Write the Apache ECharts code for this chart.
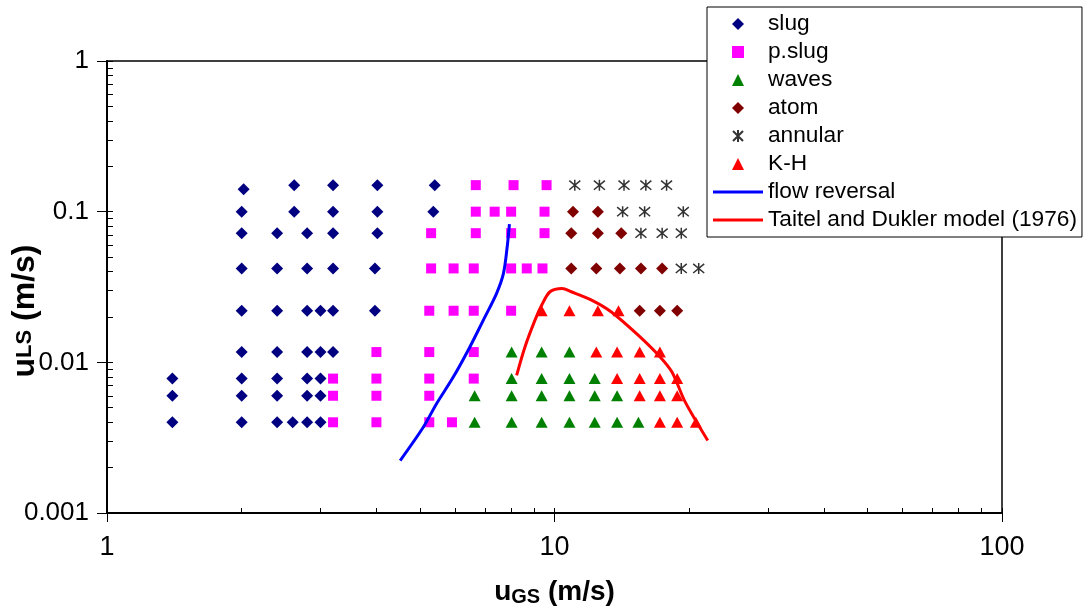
<!DOCTYPE html>
<html>
<head>
<meta charset="utf-8">
<script src="https://cdn.jsdelivr.net/npm/echarts@6/dist/echarts.min.js"></script>
<style>
html,body{margin:0;padding:0;background:#fff;}
#chart{width:1083px;height:612px;}
</style>
</head>
<body>
<div id="chart"></div>
<script>
// ---- data (u_GS [m/s], u_LS [m/s]) ----
const slugPoints = [
  [1.4,0.0078],[1.4,0.006],[1.4,0.004],
  [2.02,0.141],[2.0,0.1],[2.0,0.072],[2.0,0.042],[2.0,0.022],[2.0,0.0117],[2.0,0.0078],[2.0,0.006],[2.0,0.004],
  [2.4,0.072],[2.4,0.042],[2.4,0.022],[2.4,0.0117],[2.4,0.0078],[2.4,0.006],[2.4,0.004],
  [2.62,0.15],[2.62,0.1],[2.6,0.004],
  [2.8,0.072],[2.8,0.042],[2.8,0.022],[2.8,0.0117],[2.8,0.0078],[2.8,0.006],[2.8,0.004],
  [3.0,0.022],[3.0,0.0117],[3.0,0.0078],[3.0,0.006],[3.0,0.004],
  [3.2,0.15],[3.2,0.1],[3.2,0.072],[3.2,0.042],[3.2,0.022],[3.2,0.0117],
  [4.02,0.15],[4.02,0.1],[4.02,0.072],[3.97,0.042],[3.97,0.022],
  [5.4,0.15],[5.36,0.1]
];
const pslugPoints = [
  [3.2,0.0078],[3.2,0.006],[3.2,0.004],
  [4.0,0.0117],[4.0,0.0078],[4.0,0.006],[4.0,0.004],
  [5.3,0.072],[5.3,0.042],[5.25,0.022],[5.25,0.0117],[5.25,0.0078],[5.25,0.006],[5.25,0.004],
  [5.95,0.042],[5.95,0.022],[5.9,0.004],
  [6.67,0.15],[6.67,0.1],[6.67,0.072],[6.6,0.042],[6.6,0.022],[6.6,0.0117],[6.6,0.0078],
  [7.35,0.1],
  [8.1,0.15],[8.0,0.1],[8.0,0.072],[8.0,0.042],[8.0,0.022],
  [8.67,0.042],
  [9.6,0.15],[9.5,0.1],[9.5,0.072],[9.4,0.042]
];
const wavesPoints = [
  [6.63,0.006],[6.63,0.004],
  [8.02,0.0117],[8.02,0.0078],[8.02,0.006],[8.02,0.004],
  [9.36,0.0117],[9.36,0.0078],[9.36,0.006],[9.36,0.004],
  [10.8,0.0117],[10.8,0.0078],[10.8,0.006],[10.8,0.004],
  [12.3,0.0078],[12.3,0.006],[12.3,0.004],
  [13.8,0.006],[13.8,0.004],
  [15.4,0.004]
];
const atomPoints = [
  [11.0,0.1],[12.5,0.1],
  [10.9,0.072],[12.5,0.072],[14.1,0.072],
  [10.9,0.042],[12.4,0.042],[14.0,0.042],[15.6,0.042],[17.4,0.042],
  [15.5,0.022],[17.2,0.022],[18.8,0.022]
];
const annularPoints = [
  [11.1,0.15],[12.6,0.15],[14.3,0.15],[16.0,0.15],[17.8,0.15],
  [14.2,0.1],[15.9,0.1],[19.4,0.1],
  [15.6,0.072],[17.4,0.072],[19.2,0.072],
  [19.2,0.042],[21.0,0.042]
];
const khPoints = [
  [9.36,0.022],[10.8,0.022],[12.5,0.022],[13.9,0.022],
  [12.4,0.0117],[13.8,0.0117],[15.5,0.0117],[17.2,0.0117],
  [13.8,0.0078],[15.5,0.0078],[17.2,0.0078],[18.8,0.0078],
  [15.5,0.006],[17.2,0.006],[18.8,0.006],
  [17.2,0.004],[18.8,0.004],[20.7,0.004]
];
const flowReversal = [
  [4.52,0.00223],[5.09,0.00371],[5.45,0.00531],[5.94,0.00798],[6.47,0.01265],
  [6.93,0.019],[7.42,0.0286],[7.69,0.0389],[7.84,0.0585],[7.93,0.0828]
];
const taitelDukler = [
  [8.23,0.0082],[8.59,0.01265],[9.04,0.019],[9.36,0.0239],[9.77,0.0294],[10.4,0.0309],
  [10.9,0.0294],[12.1,0.0259],[13.4,0.0216],[15.4,0.0151],[17.1,0.0111],[18.3,0.00862],
  [19.6,0.00544],[22.0,0.00303]
];
const xMinorTicks = [1,2,3,4,5,6,7,8,9,10,20,30,40,50,60,70,80,90,100];
const yMinorTicks = [0.001,0.002,0.003,0.004,0.005,0.006,0.007,0.008,0.009,0.01,0.02,0.03,0.04,0.05,0.06,0.07,0.08,0.09,0.1,0.2,0.3,0.4,0.5,0.6,0.7,0.8,0.9,1];

const FONT = 'Liberation Sans, Arial, sans-serif';
const asteriskPath = 'path://M0,0L10,10M10,0L0,10M5,-1L5,11';
const diamondIcon = 'path://M5,0L10,5L5,10L0,5Z';
const rectIcon = 'path://M1,1H9V9H1Z';
const triIcon = 'path://M5,0L10,10L0,10Z';
const lineIcon = 'path://M0,0H50V3H0Z';

const chart = echarts.init(document.getElementById('chart'), null, {renderer:'canvas'});
const option = {
  backgroundColor: '#fff',
  animation: false,
  grid: {left:107, top:61, right:81, bottom:99, containLabel:false, outerBoundsMode:'none',
         show:true, borderColor:'#000', borderWidth:1.5, backgroundColor:'transparent'},
  legend: {
    orient:'vertical', left:707, top:7,
    backgroundColor:'#fff', borderColor:'#000', borderWidth:1,
    padding:[5,5,5,6],
    itemWidth:50, itemHeight:12, itemGap:4, symbolKeepAspect:true,
    textStyle:{fontFamily:FONT, fontSize:22.7, color:'#000', lineHeight:24},
    data:[
      {name:'slug', icon:diamondIcon},
      {name:'p.slug', icon:rectIcon},
      {name:'waves', icon:triIcon},
      {name:'atom', icon:diamondIcon},
      {name:'annular'},
      {name:'K-H', icon:triIcon},
      {name:'flow reversal', icon:lineIcon},
      {name:'Taitel and Dukler model (1976)', icon:lineIcon}
    ]
  },
  xAxis: [
    {type:'log', logBase:10, min:1, max:100, gridIndex:0, position:'bottom',
     name:'{u|u}{s|GS}{n| (m/s)}', nameLocation:'middle', nameGap:64, nameMoveOverlap:false,
     nameTextStyle:{rich:{
       u:{fontFamily:FONT, fontWeight:'bold', fontSize:28, color:'#000'},
       s:{fontFamily:FONT, fontWeight:'bold', fontSize:20, color:'#000', verticalAlign:'bottom', padding:[10,0,0,0]},
       n:{fontFamily:FONT, fontWeight:'bold', fontSize:28, color:'#000'}}},
     axisLine:{lineStyle:{color:'#000', width:2}},
     axisTick:{show:true, inside:false, length:9, lineStyle:{color:'#000', width:1}},
     axisLabel:{fontFamily:FONT, fontSize:27, color:'#000', margin:21},
     splitLine:{show:false}},
    {type:'log', logBase:10, min:1, max:100, gridIndex:0, position:'bottom',
     axisLine:{show:false},
     axisTick:{show:true, inside:true, length:5, customValues:xMinorTicks, lineStyle:{color:'#000', width:1}},
     axisLabel:{show:false}, splitLine:{show:false}}
  ],
  yAxis: [
    {type:'log', logBase:10, min:0.001, max:1, gridIndex:0, position:'left',
     name:'{u|u}{s|LS}{n| (m/s)}', nameLocation:'middle', nameGap:66, nameMoveOverlap:false,
     nameTextStyle:{padding:[0,48,0,0], rich:{
       u:{fontFamily:FONT, fontWeight:'bold', fontSize:32, color:'#000'},
       s:{fontFamily:FONT, fontWeight:'bold', fontSize:22, color:'#000'},
       n:{fontFamily:FONT, fontWeight:'bold', fontSize:32, color:'#000'}}},
     axisLine:{lineStyle:{color:'#000', width:2}},
     axisTick:{show:true, inside:false, length:10, lineStyle:{color:'#000', width:1}},
     axisLabel:{fontFamily:FONT, fontSize:26, color:'#000', margin:18,
       formatter:function(v){ return String(+v.toPrecision(3)); }},
     splitLine:{show:false}},
    {type:'log', logBase:10, min:0.001, max:1, gridIndex:0, position:'left',
     axisLine:{show:false},
     axisTick:{show:true, inside:true, length:6, customValues:yMinorTicks, lineStyle:{color:'#000', width:1}},
     axisLabel:{show:false}, splitLine:{show:false}}
  ],
  series: [
    {name:'slug', type:'scatter', data:slugPoints, symbol:'diamond', symbolSize:12, itemStyle:{color:'#000080', opacity:1}},
    {name:'p.slug', type:'scatter', data:pslugPoints, symbol:'rect', symbolSize:10, itemStyle:{color:'#FF00FF', opacity:1}},
    {name:'waves', type:'scatter', data:wavesPoints, symbol:'triangle', symbolSize:[12,11], itemStyle:{color:'#008000', opacity:1}},
    {name:'atom', type:'scatter', data:atomPoints, symbol:'diamond', symbolSize:12, itemStyle:{color:'#800000', opacity:1}},
    {name:'annular', type:'scatter', data:annularPoints, symbol:asteriskPath, symbolSize:11,
     itemStyle:{color:'rgba(0,0,0,0)', borderColor:'#333333', borderWidth:1.5, opacity:1}},
    {name:'K-H', type:'scatter', data:khPoints, symbol:'triangle', symbolSize:[12,11], itemStyle:{color:'#FF0000', opacity:1}},
    {name:'flow reversal', type:'line', data:flowReversal, symbol:'none', smooth:0.3, z:5,
     lineStyle:{color:'#0000FF', width:3}, itemStyle:{color:'#0000FF'}},
    {name:'Taitel and Dukler model (1976)', type:'line', data:taitelDukler, symbol:'none', smooth:0.3, z:5,
     lineStyle:{color:'#FF0000', width:3}, itemStyle:{color:'#FF0000'}}
  ]
};
chart.setOption(option);
</script>
</body>
</html>
